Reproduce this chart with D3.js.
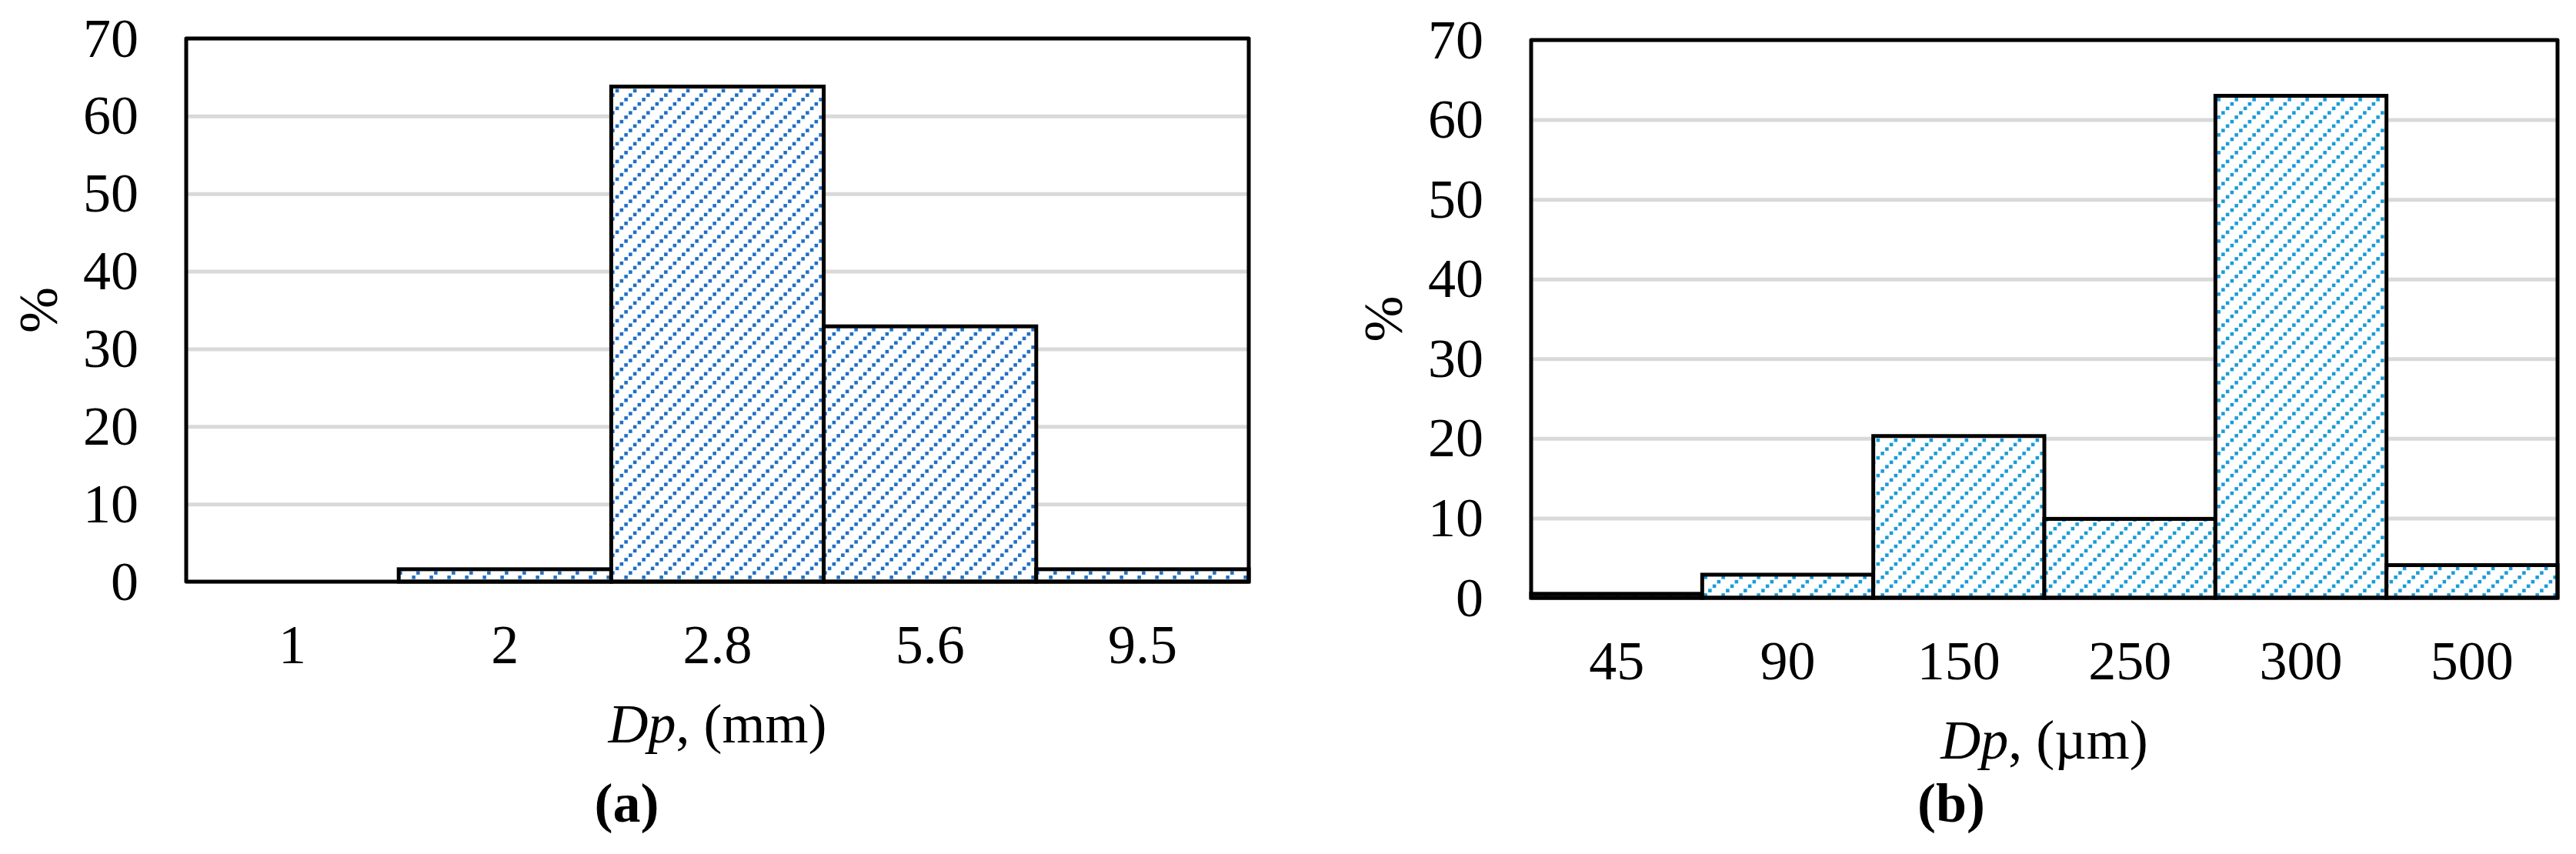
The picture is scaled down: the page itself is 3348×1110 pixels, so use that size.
<!DOCTYPE html>
<meta charset="utf-8">
<script src="https://d3js.org/d3.v7.min.js"></script>
<style>
  body { margin: 0; background: #fff; }
  .tick text { font-family: "Liberation Serif", "Times New Roman", serif; font-size: 72px; fill: #000; }
  .grid line { stroke: #d9d9d9; stroke-width: 5; }
  .label { font-family: "Liberation Serif", "Times New Roman", serif; font-size: 72px; fill: #000; }
</style>
<svg></svg>
<script>

// DATA

var sizesA = ["1", "2", "2.8", "5.6", "9.5"];
var percentA = [0, 1.6, 63.8, 32.9, 1.6];

var sizesB = ["45", "90", "150", "250", "300", "500"];
var percentB = [0.5, 2.9, 20.3, 9.9, 63.0, 4.1];

var yTicks = [0, 10, 20, 30, 40, 50, 60, 70];

// GLOBALS

var width = 3348;
var height = 1110;

var svg = d3.select("svg")
    .attr("width", width)
    .attr("height", height);

var defs = svg.append("defs");

// upward diagonal dotted hatch, like the Excel pattern fill
function hatch(id, color) {
  var u = 5.75;
  var p = defs.append("pattern")
      .attr("id", id)
      .attr("patternUnits", "userSpaceOnUse")
      .attr("width", 4 * u)
      .attr("height", 4 * u);
  p.append("rect")
      .attr("width", 4 * u)
      .attr("height", 4 * u)
      .attr("fill", "#fff");
  for (var i = 0; i < 4; i++) {
    p.append("rect")
        .attr("x", i * u + 0.6)
        .attr("y", (3 - i) * u + 0.6)
        .attr("width", u - 1.2)
        .attr("height", u - 1.2)
        .attr("fill", color);
  }
}

hatch("hatchA", "#1f6fc5");
hatch("hatchB", "#1a9bd9");

function panel(opt) {
  var g = svg.append("g");

  var x = d3.scaleBand()
      .domain(opt.cats)
      .range([opt.left, opt.right])
      .padding(0);

  var y = d3.scaleLinear()
      .domain([0, 70])
      .range([opt.bottom, opt.top]);

  // gridlines
  g.append("g")
      .attr("class", "grid")
      .attr("transform", "translate(" + opt.left + ",0)")
      .call(d3.axisLeft(y).tickValues(yTicks).tickSize(-(opt.right - opt.left)).tickFormat(""))
      .call(function(s) { s.select(".domain").remove(); });

  // bars
  g.selectAll("rect.bar")
      .data(opt.values)
      .enter()
      .append("rect")
      .attr("class", "bar")
      .attr("x", function(d, i) { return x(opt.cats[i]); })
      .attr("y", function(d) { return y(d); })
      .attr("width", x.bandwidth())
      .attr("height", function(d) { return opt.bottom - y(d); })
      .attr("fill", "url(#" + opt.pattern + ")")
      .attr("stroke", "#000")
      .attr("stroke-width", 5);

  // frame
  g.append("rect")
      .attr("x", opt.left)
      .attr("y", opt.top)
      .attr("width", opt.right - opt.left)
      .attr("height", opt.bottom - opt.top)
      .attr("fill", "none")
      .attr("stroke", "#000")
      .attr("stroke-width", 5)
      .attr("stroke-linejoin", "round");

  // axes
  g.append("g")
      .attr("transform", "translate(" + opt.left + ",0)")
      .call(d3.axisLeft(y).tickValues(yTicks).tickSize(0).tickPadding(62))
      .call(function(s) { s.select(".domain").remove(); });

  g.append("g")
      .attr("transform", "translate(0," + opt.bottom + ")")
      .call(d3.axisBottom(x).tickSize(0).tickPadding(55))
      .call(function(s) { s.select(".domain").remove(); });

  // y title
  g.append("text")
      .attr("class", "label")
      .attr("transform", "translate(" + (opt.left - 168) + "," + ((opt.top + opt.bottom) / 2) + ") rotate(-90)")
      .attr("text-anchor", "middle")
      .text("%");

  // x title
  var cx = (opt.left + opt.right) / 2;
  var t = g.append("text")
      .attr("class", "label")
      .attr("x", cx)
      .attr("y", opt.bottom + 209)
      .attr("text-anchor", "middle");
  t.append("tspan").style("font-style", "italic").text("Dp");
  t.append("tspan").text(", (" + opt.unit + ")");

  // panel letter
  g.append("text")
      .attr("class", "label")
      .attr("x", cx - opt.letterShift)
      .attr("y", 1068)
      .attr("text-anchor", "middle")
      .style("font-weight", "bold")
      .text(opt.letter);
}

panel({
  cats: sizesA, values: percentA, pattern: "hatchA",
  left: 242, right: 1623, top: 50, bottom: 756,
  unit: "mm", letter: "(a)", letterShift: 118
});

panel({
  cats: sizesB, values: percentB, pattern: "hatchB",
  left: 1990, right: 3324, top: 52, bottom: 777,
  unit: "\u00b5m", letter: "(b)", letterShift: 121
});

</script>
